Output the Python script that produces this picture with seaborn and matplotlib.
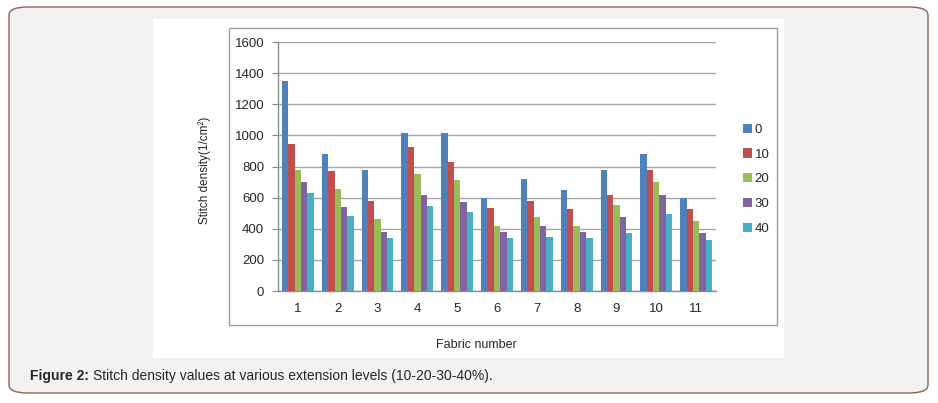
import matplotlib
matplotlib.use("Agg")
import matplotlib.pyplot as plt
import pandas as pd
import seaborn as sns
from matplotlib.patches import FancyBboxPatch, Rectangle, Patch

# stitch density, one list per extension level (%)
fabrics = ['1', '2', '3', '4', '5', '6', '7', '8', '9', '10', '11']
levels = ['0', '10', '20', '30', '40']
ext_0 = [1350, 882, 778, 1015, 1015, 599, 718, 648, 776, 882, 599]
ext_10 = [942, 771, 578, 925, 829, 531, 577, 530, 617, 776, 530]
ext_20 = [778, 656, 463, 751, 716, 418, 477, 417, 550, 698, 451]
ext_30 = [702, 539, 378, 618, 570, 377, 417, 377, 477, 617, 370]
ext_40 = [630, 479, 339, 545, 505, 338, 349, 343, 370, 497, 330]
colors = ['#4F81BD', '#C0504D', '#9BBB59', '#8064A2', '#4BACC6']

rows = []
for lvl, vals in zip(levels, [ext_0, ext_10, ext_20, ext_30, ext_40]):
    for f, v in zip(fabrics, vals):
        rows.append({'Fabric': f, 'Extension': lvl, 'Density': v})
df = pd.DataFrame(rows)

sns.set_style('white')
plt.rcParams['font.family'] = ['Liberation Sans', 'DejaVu Sans']

W, H = 938, 403
fig = plt.figure(figsize=(W / 100, H / 100), dpi=100, facecolor='white')

def fx(px):
    return px / W

def fy(py):
    return 1 - py / H

# page background + rounded frame
fig.patches.append(FancyBboxPatch((fx(9), fy(393)), fx(919), (393 - 7) / H,
                                  boxstyle='round,pad=0,rounding_size=0.02',
                                  transform=fig.transFigure, facecolor='#f2f2f2',
                                  edgecolor='#946056', linewidth=1.0, zorder=0))
# white image panel
fig.patches.append(Rectangle((fx(153), fy(358)), fx(631), (358 - 19) / H,
                             transform=fig.transFigure, facecolor='white',
                             edgecolor='none', zorder=1))
# chart frame
fig.patches.append(Rectangle((fx(229), fy(325)), fx(548), (325 - 28) / H,
                             transform=fig.transFigure, facecolor='white',
                             edgecolor='#a0a0a0', linewidth=1.0, zorder=2))

ax = fig.add_axes([fx(278), fy(291), fx(716 - 278), (291 - 42) / H])
ax.set_zorder(5)
ax.set_facecolor('none')

sns.barplot(data=df, x='Fabric', y='Density', hue='Extension', order=fabrics,
            hue_order=levels, palette=colors, width=0.8, saturation=1,
            linewidth=0, ax=ax, legend=False, zorder=3)

ax.set_ylim(0, 1600)
ax.set_xlim(-0.5, len(fabrics) - 0.5)
ax.set_yticks(range(0, 1601, 200))
ax.yaxis.grid(True, color='#a6a6a6', linewidth=1.0, zorder=0)
ax.set_axisbelow(True)
for s in ['top', 'right']:
    ax.spines[s].set_visible(False)
for s in ['left', 'bottom']:
    ax.spines[s].set_color('#8c8c8c')
    ax.spines[s].set_linewidth(1.0)

ax.set_xticks([i - 0.5 for i in range(len(fabrics) + 1)], minor=True)
ax.tick_params(axis='x', which='minor', length=4, color='#8c8c8c', direction='out')
ax.tick_params(axis='x', which='major', length=0, pad=9, labelsize=9.5)
ax.tick_params(axis='y', length=4, color='#8c8c8c', direction='out', left=True,
               labelsize=9.5, pad=6)
ax.set_xlabel('')
ax.set_ylabel('')

fig.text(fx(205), fy(170), 'Stitch density(1/cm\u00b2)', rotation=90,
         ha='center', va='center', fontsize=8.5)
fig.text(fx(476), fy(345), 'Fabric number', ha='center', va='center', fontsize=9)

handles = [Patch(facecolor=c, edgecolor='none', label=l) for c, l in zip(colors, levels)]
fig.legend(handles=handles, loc='upper left', bbox_to_anchor=(fx(736), fy(117)),
           frameon=False, fontsize=9.5, handlelength=0.7, handleheight=0.7,
           handletextpad=0.2, labelspacing=0.95, borderpad=0)

# caption: bold prefix then regular text
t1 = fig.text(fx(30), fy(376), 'Figure 2:', fontsize=10, fontweight='bold',
              ha='left', va='center')
r = fig.canvas.get_renderer()
bb = t1.get_window_extent(renderer=r)
fig.text(bb.x1 / W + fx(4), fy(376),
         'Stitch density values at various extension levels (10-20-30-40%).',
         fontsize=10, ha='left', va='center')

fig.savefig('out.png', dpi=100, facecolor='white')
